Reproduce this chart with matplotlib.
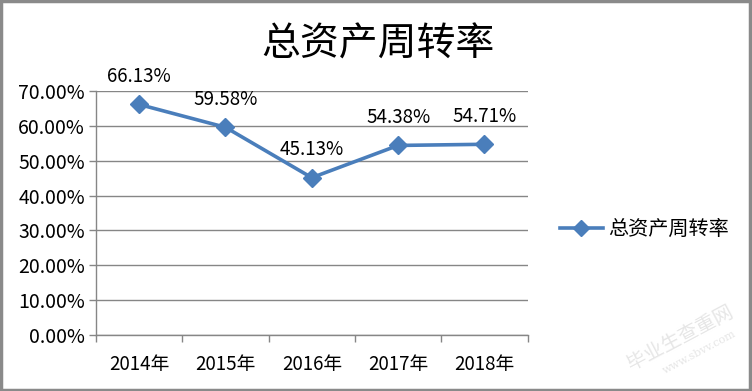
import matplotlib.pyplot as plt
from matplotlib.patches import Rectangle

plt.rcParams['font.family'] = ['Noto Sans CJK SC', 'DejaVu Sans']

# data
years = ["2014年", "2015年", "2016年", "2017年", "2018年"]
turnover = [66.13, 59.58, 45.13, 54.38, 54.71]
y_ticks = [0, 10, 20, 30, 40, 50, 60, 70]
series_name = "总资产周转率"

LINE_COLOR = "#4A7EBB"
GRID_COLOR = "#868686"

fig = plt.figure(figsize=(7.52, 3.91), dpi=100)
ax = fig.add_axes([0.1277, 0.1432, 0.5738, 0.6241])

x = list(range(len(years)))
ax.plot(x, turnover, color=LINE_COLOR, linewidth=2.6, marker='D',
        markersize=9, label=series_name, zorder=3)

for xi, v in zip(x, turnover):
    ax.annotate(f"{v:.2f}%", (xi, v), xytext=(0, 20), textcoords='offset points',
                ha='center', va='center', fontsize=13.5, color='black')

ax.set_xlim(-0.5, len(years) - 0.5)
ax.set_ylim(0, 70)
ax.set_yticks(y_ticks)
ax.set_yticklabels([f"{t:.2f}%" for t in y_ticks], fontsize=14)
ax.yaxis.grid(True, color=GRID_COLOR, linewidth=1)
ax.set_axisbelow(True)

# category labels in the middle, tick marks on the boundaries (Excel style)
ax.set_xticks(x)
ax.set_xticklabels(years, fontsize=13.5)
ax.tick_params(axis='x', length=0, pad=14)
ax.set_xticks([i - 0.5 for i in range(len(years) + 1)], minor=True)
ax.tick_params(axis='x', which='minor', length=5, color=GRID_COLOR, width=1)
ax.tick_params(axis='y', length=5, color=GRID_COLOR, width=1, pad=3)

for side in ['top', 'right']:
    ax.spines[side].set_visible(False)
for side in ['left', 'bottom']:
    ax.spines[side].set_color(GRID_COLOR)
    ax.spines[side].set_linewidth(1)

fig.text(0.503, 0.885, "总资产周转率", ha='center', va='center', fontsize=28)

fig.legend(loc='center left', bbox_to_anchor=(0.721, 0.413), frameon=False,
           fontsize=14.5, handlelength=2.1, handletextpad=0.25, markerscale=0.9)

# faint watermark
fig.text(0.905, 0.135, "毕业生查重网", rotation=28, ha='center', va='center',
         fontsize=14, color='#e6e6e6')
fig.text(0.93, 0.1, "www.sbvv.com", rotation=28, ha='center', va='center',
         fontsize=8, color='#e6e6e6', family='DejaVu Serif')

# outer border of the chart
fig.patches.append(Rectangle((0.001, 0.003), 0.997, 0.994, transform=fig.transFigure,
                             fill=False, edgecolor='#8a8a8a', linewidth=2.5))

fig.savefig("out.png", dpi=100)
